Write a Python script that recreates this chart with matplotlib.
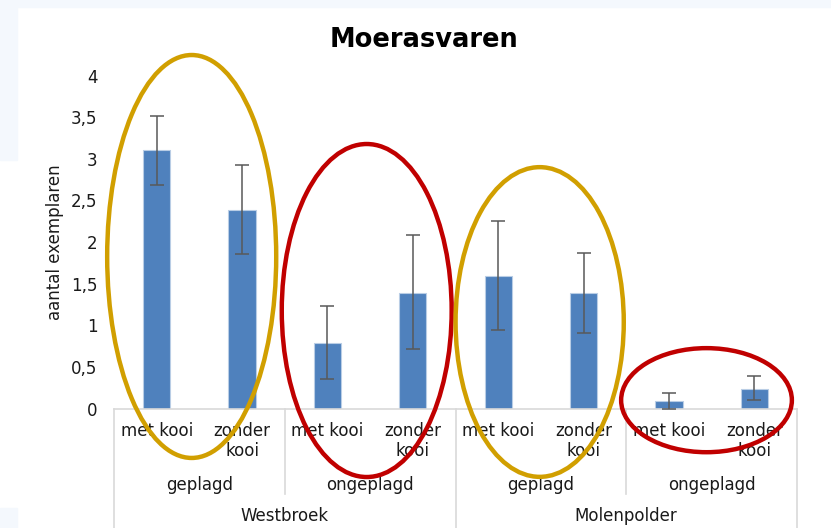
import matplotlib
matplotlib.use("Agg")
import matplotlib.pyplot as plt
from matplotlib.patches import Ellipse, Rectangle
from matplotlib.lines import Line2D
import matplotlib.transforms as mtransforms

# ---- data ----
categories = ["met kooi", "zonder\nkooi"] * 4
treatments = ["geplagd", "ongeplagd", "geplagd", "ongeplagd"]
locations = ["Westbroek", "Molenpolder"]
values = [3.10, 2.39, 0.79, 1.39, 1.59, 1.39, 0.09, 0.24]
err_low = [2.69, 1.85, 0.35, 0.71, 0.94, 0.91, 0.0, 0.10]
err_high = [3.51, 2.93, 1.23, 2.08, 2.25, 1.87, 0.19, 0.39]
yticks = [0, 0.5, 1, 1.5, 2, 2.5, 3, 3.5, 4]
ytick_labels = ["0", "0,5", "1", "1,5", "2", "2,5", "3", "3,5", "4"]
title = "Moerasvaren"
ylabel = "aantal exemplaren"
# highlight ellipses: (center x, center y, width, height, colour)
ellipses = [
    (0.41, 1.826, 1.98, 4.84, "#D19F00"),
    (2.46, 1.177, 1.99, 4.00, "#C00000"),
    (4.486, 1.039, 1.97, 3.72, "#D19F00"),
    (6.44, 0.10, 2.00, 1.25, "#C00000"),
]

W, H = 831, 528
fig = plt.figure(figsize=(W / 100, H / 100), dpi=100)
fig.patch.set_facecolor("white")

# light frame strips of the screenshot
for (x0, y0, w, h) in [(0, 0, W, 7), (0, 0, 17, 160), (0, 508, 17, 20)]:
    fig.patches.append(Rectangle((x0 / W, 1 - (y0 + h) / H), w / W, h / H,
                                 transform=fig.transFigure, color="#F4F8FD",
                                 zorder=0))

left, right = 114 / W, 797 / W
bottom, top = 1 - 408.5 / H, 1 - 75.5 / H
ax = fig.add_axes([left, bottom, right - left, top - bottom])

x = list(range(len(values)))
lower = [v - l for v, l in zip(values, err_low)]
upper = [h - v for v, h in zip(values, err_high)]
ax.bar(x, values, width=0.32, color="#4F81BD", edgecolor="#B9CDE5",
       linewidth=0.8, zorder=2)
ax.errorbar(x, values, yerr=[lower, upper], fmt="none", ecolor="#595959",
            elinewidth=1.1, capsize=5, capthick=1.1, zorder=3)

ax.set_xlim(-0.5, len(values) - 0.5)
ax.set_ylim(0, 4)
ax.set_yticks(yticks)
ax.set_yticklabels(ytick_labels, fontsize=12, color="#1a1a1a")
ax.tick_params(axis="y", length=0, pad=12)
ax.set_xticks([])
for s in ["top", "right", "left"]:
    ax.spines[s].set_visible(False)
ax.spines["bottom"].set_color("#D9D9D9")
ax.spines["bottom"].set_linewidth(1.2)

ax.set_ylabel(ylabel, fontsize=12, color="#1a1a1a")
ax.yaxis.set_label_coords(-(114 - 64) / (797 - 114), 0.5)
fig.text(424 / W, 1 - 40 / H, title, fontsize=18.5, fontweight="bold",
         ha="center", va="center")

# hierarchical category axis
def ypx(p):
    return 1 - p / H

blend = mtransforms.blended_transform_factory(ax.transData, fig.transFigure)
for i, lab in enumerate(categories):
    for j, line in enumerate(lab.split("\n")):
        ax.text(i, ypx(431 + 20 * j), line, transform=blend, fontsize=12,
                ha="center", va="center", color="#1a1a1a")
for g, lab in enumerate(treatments):
    ax.text(2 * g + 0.5, ypx(485), lab, transform=blend, fontsize=12,
            ha="center", va="center", color="#1a1a1a")
for k, lab in enumerate(locations):
    ax.text(4 * k + 1.5, ypx(516), lab, transform=blend, fontsize=12,
            ha="center", va="center", color="#1a1a1a")

n = len(values)
for b in range(0, n + 1, 2):
    full = (b % 4 == 0)
    y_end = ypx(528) if full else ypx(494)
    ax.add_line(Line2D([b - 0.5, b - 0.5], [ypx(408.5), y_end], transform=blend,
                       color="#D9D9D9", linewidth=1.2, clip_on=False, zorder=1))

for (cx, cy, w, h, c) in ellipses:
    ax.add_patch(Ellipse((cx, cy), w, h, fill=False, edgecolor=c,
                         linewidth=3.2, clip_on=False, zorder=5))

fig.savefig("out.png", dpi=100, facecolor="white")
